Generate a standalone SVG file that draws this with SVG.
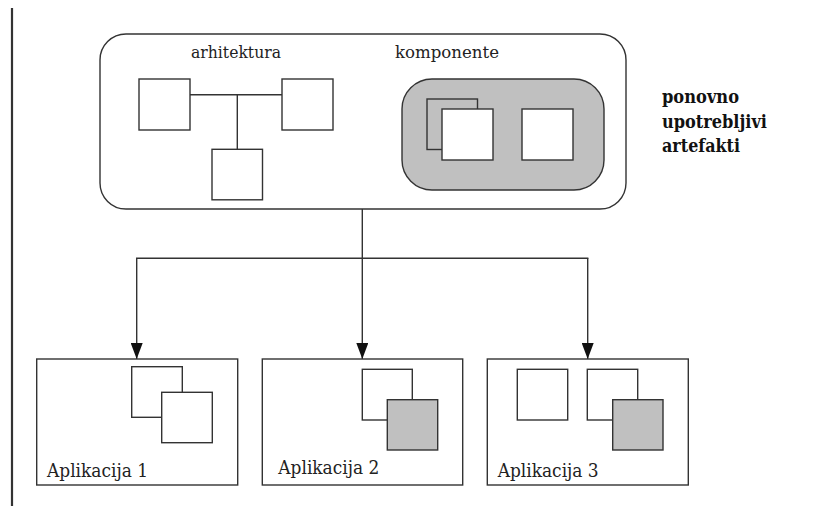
<svg xmlns="http://www.w3.org/2000/svg" width="826" height="506" viewBox="0 0 826 506">
<defs>
<style>
.s{fill:#fff;stroke:#333;stroke-width:1.4}
.g{fill:#c0c0c0;stroke:#333;stroke-width:1.4}
.ln{fill:none;stroke:#333;stroke-width:1.4}
.t{font-family:'DejaVu Serif','Times New Roman',serif;fill:#222}
.b{font-family:'DejaVu Serif','Times New Roman',serif;font-weight:bold;fill:#111}
</style>
<marker id="arr" markerWidth="16" markerHeight="12" refX="16" refY="6" orient="auto" markerUnits="userSpaceOnUse" viewBox="0 0 16 12">
<path d="M0,0 L16,6 L0,12 Z" fill="#111"/>
</marker>
</defs>
<rect width="826" height="506" fill="#fff"/>
<line x1="12" y1="8" x2="12" y2="506" stroke="#333" stroke-width="2.2"/>

<g id="reusable">
<rect class="s" x="100" y="34" width="526" height="175" rx="26" ry="26"/>
<text class="t" x="191" y="58.3" font-size="16" textLength="90" lengthAdjust="spacingAndGlyphs">arhitektura</text>
<text class="t" x="395" y="58.3" font-size="16" textLength="104" lengthAdjust="spacingAndGlyphs">komponente</text>
<g id="arch">
<line class="ln" x1="190" y1="94.7" x2="282" y2="94.7"/>
<line class="ln" x1="237.3" y1="94.7" x2="237.3" y2="149.3"/>
<rect class="s" x="139" y="79" width="51" height="51"/>
<rect class="s" x="282" y="79" width="51" height="51"/>
<rect class="s" x="212" y="149.3" width="50.5" height="50.5"/>
</g>
<g id="comp">
<rect class="g" x="402" y="79" width="202" height="111" rx="30" ry="30"/>
<rect class="g" x="427" y="99" width="50.5" height="50.5"/>
<rect class="s" x="442" y="109" width="51" height="51"/>
<rect class="s" x="522" y="109" width="51" height="51"/>
</g>
</g>

<g id="label">
<text class="b" x="662" y="103" font-size="19" textLength="77" lengthAdjust="spacingAndGlyphs">ponovno</text>
<text class="b" x="662" y="127.7" font-size="19" textLength="105" lengthAdjust="spacingAndGlyphs">upotrebljivi</text>
<text class="b" x="662" y="151.7" font-size="19" textLength="78" lengthAdjust="spacingAndGlyphs">artefakti</text>
</g>

<g id="connectors">
<line class="ln" x1="362.3" y1="209" x2="362.3" y2="258.3"/>
<line class="ln" x1="136" y1="258.3" x2="588.4" y2="258.3"/>
<line class="ln" x1="136.7" y1="258.3" x2="136.7" y2="359" marker-end="url(#arr)"/>
<line class="ln" x1="362.3" y1="258.3" x2="362.3" y2="359" marker-end="url(#arr)"/>
<line class="ln" x1="587.7" y1="258.3" x2="587.7" y2="359" marker-end="url(#arr)"/>
</g>

<g id="app1">
<rect class="s" x="36.7" y="359" width="201" height="126"/>
<rect class="s" x="131.7" y="366.7" width="50.6" height="50.6"/>
<rect class="s" x="161.7" y="392.3" width="50.6" height="50.4"/>
<text class="t" x="47" y="477" font-size="19" textLength="101" lengthAdjust="spacingAndGlyphs">Aplikacija 1</text>
</g>
<g id="app2">
<rect class="s" x="262.3" y="359" width="200.4" height="126"/>
<rect class="s" x="362.3" y="369.3" width="50" height="50.7"/>
<rect class="g" x="387.3" y="399.7" width="50.4" height="50.3"/>
<text class="t" x="278.3" y="474" font-size="19" textLength="101" lengthAdjust="spacingAndGlyphs">Aplikacija 2</text>
</g>
<g id="app3">
<rect class="s" x="487.3" y="359" width="201" height="126"/>
<rect class="s" x="517.3" y="369.3" width="50.4" height="50.7"/>
<rect class="s" x="587.3" y="369.3" width="50.4" height="50.7"/>
<rect class="g" x="612.7" y="399.7" width="50.3" height="50.3"/>
<text class="t" x="497.7" y="476.5" font-size="19" textLength="101" lengthAdjust="spacingAndGlyphs">Aplikacija 3</text>
</g>
</svg>
